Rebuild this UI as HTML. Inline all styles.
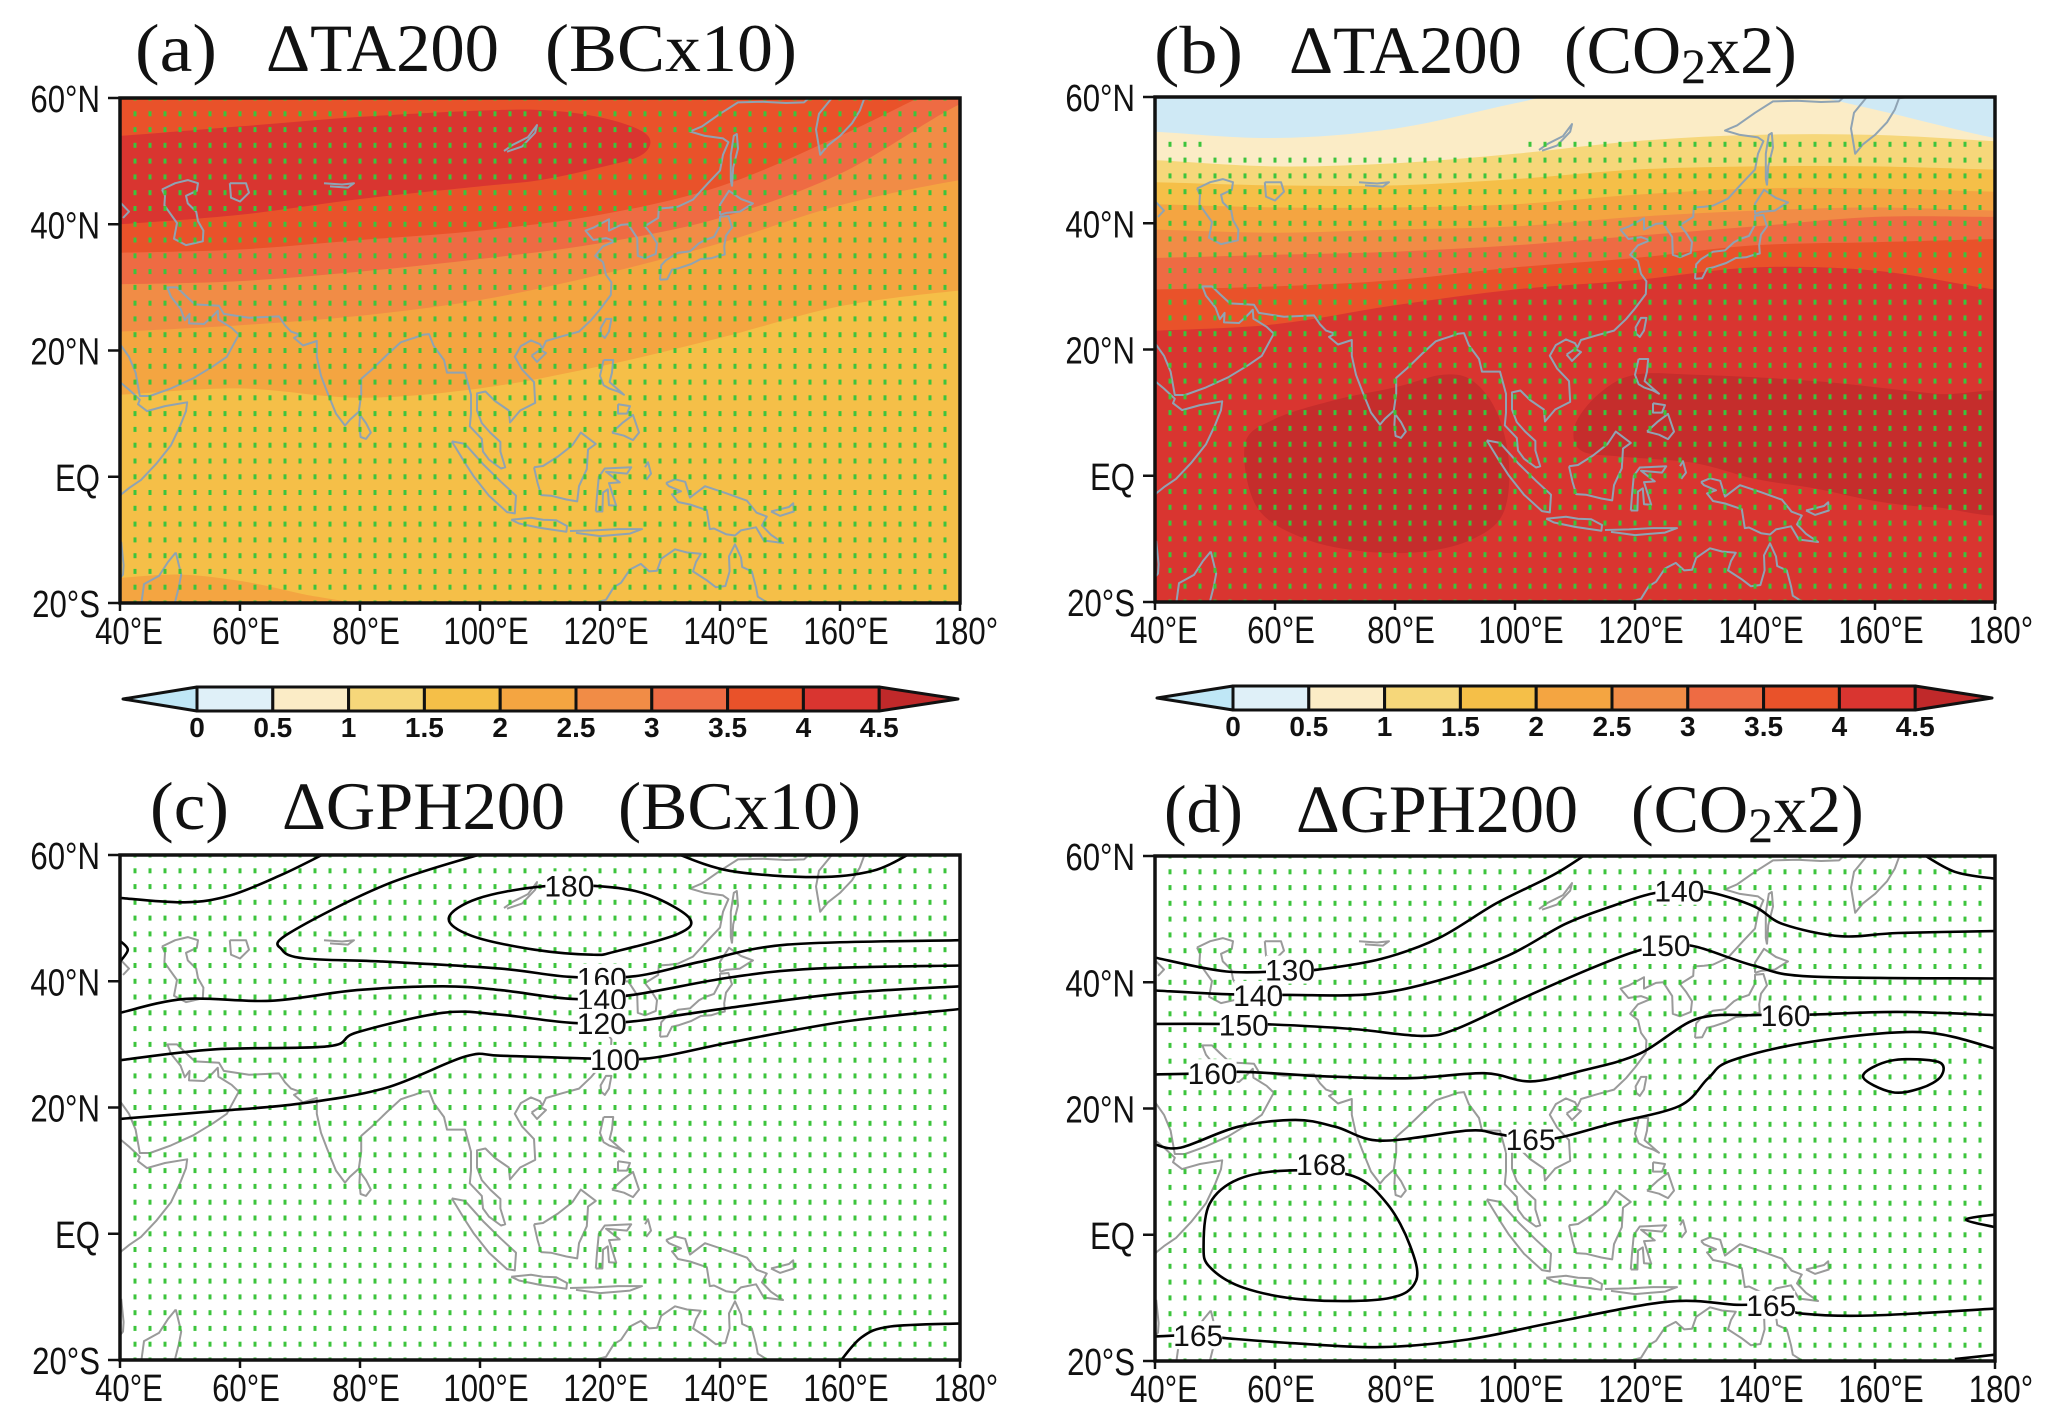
<!DOCTYPE html>
<html><head><meta charset="utf-8"><title>ΔTA200 / ΔGPH200</title>
<style>
html,body{margin:0;padding:0;background:#fff;}
svg{display:block;}
.tick{font-family:"Liberation Sans",sans-serif;font-size:38px;fill:#111;}
.ttl{font-family:"Liberation Serif",serif;font-size:68px;fill:#111;}
.cbl{font-family:"Liberation Sans",sans-serif;font-size:28px;font-weight:bold;fill:#111;}
.cl{font-family:"Liberation Sans",sans-serif;font-size:30px;fill:#111;}
</style></head>
<body>
<svg id="fig" xmlns="http://www.w3.org/2000/svg" width="2067" height="1425" viewBox="0 0 2067 1425">
<rect width="2067" height="1425" fill="#fff"/>
<g>
<text class="ttl" x="135" y="71" textLength="82" lengthAdjust="spacingAndGlyphs">(a)</text>
<text class="ttl" x="266" y="71" textLength="233" lengthAdjust="spacingAndGlyphs">ΔTA200</text>
<text class="ttl" x="545" y="71" textLength="252" lengthAdjust="spacingAndGlyphs">(BCx10)</text>
</g>
<g>
<text class="ttl" x="1154" y="73" textLength="89" lengthAdjust="spacingAndGlyphs">(b)</text>
<text class="ttl" x="1289" y="73" textLength="233" lengthAdjust="spacingAndGlyphs">ΔTA200</text>
<text class="ttl" x="1564" y="73">(CO<tspan font-size="50" dy="10">2</tspan><tspan dy="-10">x2)</tspan></text>
</g>
<g>
<text class="ttl" x="150" y="829" textLength="79" lengthAdjust="spacingAndGlyphs">(c)</text>
<text class="ttl" x="282" y="829" textLength="283" lengthAdjust="spacingAndGlyphs">ΔGPH200</text>
<text class="ttl" x="618" y="829" textLength="243" lengthAdjust="spacingAndGlyphs">(BCx10)</text>
</g>
<g>
<text class="ttl" x="1164" y="832" textLength="79" lengthAdjust="spacingAndGlyphs">(d)</text>
<text class="ttl" x="1296" y="832" textLength="282" lengthAdjust="spacingAndGlyphs">ΔGPH200</text>
<text class="ttl" x="1631" y="832">(CO<tspan font-size="50" dy="10">2</tspan><tspan dy="-10">x2)</tspan></text>
</g>
</svg>
<script>
// ---------- data ----------
const lonKnots=[40,60,80,100,120,140,160,180];
const xTickVals=[40,60,80,100,120,140,160,180];
const xTickLabels=["40°E","60°E","80°E","100°E","120°E","140°E","160°E","180°"];
const yTickVals=[60,40,20,0,-20];
const yTickLabels=["60°N","40°N","20°N","EQ","20°S"];
const cbLabels=["0","0.5","1","1.5","2","2.5","3","3.5","4","4.5"];
const cbColors=["#bfe7f6","#dff0f8","#fbecc6","#f6d77a","#f5bf48","#f4a541","#f18c46","#ee6b43","#e9522a","#d93530","#c0292a"];

// panel (a): boundary latitudes of contours at lonKnots
const taBC_top="#e9522a";
const taBC_c35=[35.5,36,37.5,39,41.5,46,54,63];
const taBC_c3=[30.5,31,32.5,34.5,37,41,48,59];
const taBC_c25=[23,24,25.5,28,32,37,43,47];
const taBC_c2=[13,14,12.5,14,17.5,22,27,29.5];
const taBC_redBlob=[[40,54],[60,55.5],[80,57],[100,58],[112,58],[122,56.5],[128,54],[127,51],[120,49],[110,47],[100,46],[80,44],[60,41.5],[40,40],[36,40],[36,54]];
const taBC_sBlob=[[36,-16],[40,-16],[50,-15.5],[60,-16.5],[70,-18.5],[80,-21],[36,-21]];

// panel (b)
const taCO_c05=[54.5,53.5,55,59,63,62,58,53.5];
const taCO_c1=[50,49,49.5,51,53,54,54,53];
const taCO_c15=[46.5,46,46,47,48.5,49,49,48.5];
const taCO_c2=[43,42.5,42.5,43,44.5,45.5,45.5,45];
const taCO_c25=[39,38.5,39,39.5,41,42,42.5,42];
const taCO_c3=[34.5,35,35.5,36.5,38,39.5,41,41];
const taCO_c35=[29.5,30,31,33,34.5,36.5,37,37.5];
const taCO_c4=[23,24,27,29.5,31,33,32.5,29.5];
const taCO_blob1=[[55,5],[60,9],[70,12],[80,14],[88,16],[93,15],[97,10],[99,2],[98,-6],[93,-10],[85,-12],[75,-12],[65,-10],[57,-5]];
const taCO_blob2=[[110,8],[114,13],[120,16],[130,16],[150,15],[170,13],[184,12],[184,-5],[170,-5],[160,-4],[150,-2],[140,-0.5],[130,2],[118,3],[111,4]];

// panel (c) contour lines (lon,lat)
const gphBC_lines=[
 [[40,53.2],[50.8,52.5],[58.4,53.6],[67,56.9],[74.7,60.5]],
 [[132,60.5],[141.6,57.5],[156,56.5],[165.5,57.5],[172.2,60.5]],
 [[101.5,60.5],[84.3,55.3],[68,47.5],[67,45],[70.9,43.6],[84.3,43.1],[103.4,42],[114.9,40.7],[125.8,40.8],[136.8,43.1],[151.2,45.8],[180,46.5]],
 [[40,35],[50.8,37.2],[65.1,36.9],[79.5,38.6],[93.8,39.2],[103.4,38.6],[115.5,37.2],[125.2,37.8],[141.6,40.6],[156,42],[180,42.5]],
 [[40,27.5],[55.6,29.2],[74.7,29.7],[79.5,31.9],[93.8,35],[103.4,34.7],[115.5,33.4],[125.2,33.6],[141.6,35.8],[160.7,38.1],[180,39.2]],
 [[40,18.2],[55.6,19.4],[69.9,20.6],[84.3,23.1],[97.6,28.1],[103.4,28.2],[117,27.8],[128.2,27.8],[141.6,30.3],[160.7,33.6],[180,35.6]],
 [[159.8,-20.5],[163.6,-16.4],[168.4,-14.7],[180,-14.2]],
 [[40,46.4],[41.3,45],[40,43.1]]
];
const gphBC_loops=[
 [[110.1,55],[99.6,53.1],[94.8,50],[98.6,47.2],[109.1,45],[118.7,44.2],[122.5,44.7],[133,47.5],[134.9,50],[128.3,53.6],[120.6,55]]
];
const gphBC_labels=[["180",114.9,55.2],["160",120.3,40.6],["140",120.3,37.2],["120",120.3,33.4],["100",122.5,27.7]];

// panel (d)
const gphCO_lines=[
 [[40,43.9],[51.9,41.7],[62.5,41.8],[67.2,42],[77.7,43.7],[87.3,47],[96.9,52.5],[106.4,57],[112.2,60.5]],
 [[40,38.7],[51.9,38.1],[62.5,38],[75.9,38.1],[87.3,40.3],[98.8,44.2],[108.3,49.2],[116,52],[122.6,54],[127.4,54.5],[132.7,54.2],[139.9,52],[144.7,49.2],[154.2,47.3],[163.8,47.8],[180,48.1]],
 [[40,33.4],[50,33.4],[59.6,33.3],[73,32.6],[84.4,31.5],[90.2,32.6],[101.6,37.6],[112.2,42],[119.8,44.8],[125.1,45.9],[130.3,45.6],[139.9,42.6],[149.5,40.9],[180,40.6]],
 [[40,25.4],[45.3,25.5],[54.8,25.8],[68.2,25.1],[82.5,24.8],[94.9,25.6],[102.6,24.3],[111.2,26],[120.8,28.7],[130.3,34.2],[139.9,34.8],[145.1,34.8],[150.3,34.9],[163.7,35.3],[180,34.8]],
 [[40,14.3],[44.3,13.8],[53.8,17.1],[63.4,18.2],[70.1,17.1],[77.7,14.9],[92.1,16.5],[96.9,16],[102.6,15.1],[107.4,15.4],[116,17.6],[127.4,20.4],[132.2,24.8],[136.1,27.6],[149.5,30.6],[167.6,32.1],[180,29.5]],
 [[40,-16.1],[47.2,-15.9],[52,-16.4],[63.4,-17.2],[77.7,-17.8],[92.1,-16.6],[106.4,-13.9],[125.5,-10.6],[137,-11.1],[142.7,-11.1],[148,-12.5],[159.5,-12.8],[180,-11.7]],
 [[167.6,60.5],[173.3,57.5],[180,56.4]],
 [[180,3.2],[175.2,2.4],[180,1.2]],
 [[173.3,-19.7],[180,-19]]
];
const gphCO_loops=[
 [[158,25.1],[162.8,27.6],[170.5,27.4],[171,25.1],[167.6,23.2],[162.8,22.6]],
 [[62.5,10.2],[53.9,8.8],[49.1,4.9],[48.1,-1.7],[49.1,-5.1],[54.8,-8.4],[65.3,-10.3],[78.7,-10.1],[83.5,-7.3],[82.5,-1.7],[78.7,4.9],[73,9.3]]
];
const gphCO_labels=[["130",62.5,42],["140",57.2,38],["150",54.8,33.3],["160",49.6,25.6],["165",102.6,15.2],["168",67.7,11.2],["165",47.2,-15.9],["165",142.7,-11.1],["140",127.4,54.5],["150",125.1,45.9],["160",145.1,34.8]];

// coastlines (lon,lat)
const coasts=[
 [[40,21],[41.5,19],[42.6,16.5],[43.3,12.8],[45,12.8],[48.5,14],[52.2,15.6],[55.5,17.5],[57.8,19],[59.8,22.5],[58.6,23.6],[56.4,24.9],[56.3,26.3],[55.3,25.3],[54,24.2],[51.5,24.3],[51.6,25.8],[50.8,24.8],[50.1,26.6],[48.5,28.5],[47.9,30],[49.5,30],[50.8,28.8],[52.5,27.3],[56.5,27.1],[57.3,25.8],[61.5,25.2],[66.5,25.4],[67.5,24],[68.5,23],[70,22.5],[69,22],[70.5,20.8],[72.8,21.5],[72.8,19],[73.5,16],[74.5,13.5],[76,10],[77.5,8.1],[78.3,9],[79.8,10.3],[80.2,13],[80.2,15.5],[82,17],[84.5,19.3],[86.8,21.3],[88,21.7],[89,22],[90.5,22.5],[91.5,22.6],[92.3,20.7],[94,18.5],[94.5,16.5],[97.5,16.5],[98.5,13],[98.5,10],[98.3,8],[100.3,6],[100.5,4],[101.5,2.7],[103.5,1.3],[104.2,1.5],[103.4,4],[103.4,5.5],[101.7,7],[100.3,8.5],[99.5,10.5],[99.5,13.2],[100.9,13.5],[102.5,12],[104.8,10.5],[105,8.6],[106.7,10.5],[109.2,11.7],[109,15],[107,17],[105.8,19],[106.8,20.7],[108.5,21.6],[110,21],[110.4,20.3],[111,21.5],[113.5,22.2],[116.5,23],[118.5,24.8],[120,26.5],[121.8,28.8],[121.9,30.8],[121,32],[120.5,34],[119.2,35],[120.5,36.5],[122.5,37.3],[121,37.8],[118.9,37.5],[118,38.5],[117.6,39],[119,39.5],[121.5,40.8],[121.5,39],[123.5,39.9],[124.7,40],[126.2,37.8],[126.3,35],[127.5,34.6],[129.3,35.3],[129.5,37],[128.5,38.5],[127.5,39.7],[129.7,41],[129.8,42.5],[131.5,42.6],[133,42.8],[135.5,43.9],[138,46.5],[140,48.5],[140.5,51],[141.4,53],[140.5,53.6],[137.5,54],[135,54.7],[137,55.5],[140,57.5],[143,59.3],[147,59.4],[151,59.2],[154,59.3],[156,61]],
 [[160,62],[159.5,61],[156.5,57.5],[156,55],[156.7,51],[158,52.5],[160,54],[162,56],[163.3,58],[164,59.8],[170,60.5]],
 [[142,46],[142.2,49],[143,52],[142.8,54.3],[142.3,54],[141.8,51],[141.8,47],[142,46]],
 [[130,31.2],[130.2,33.5],[131,34.3],[133,35.5],[135,35.7],[136.5,37],[137.5,37.5],[139,38],[140,39.8],[140,41.2],[141.4,41.3],[142,39.5],[141,38.2],[140.7,36.5],[140.8,35.2],[139.5,34.9],[138.5,34.6],[136.8,34.5],[135.2,33.7],[133,33],[132,32.8],[131.2,31.3],[130,31.2]],
 [[140,41.5],[140,43.1],[141.5,45.3],[143.5,44],[145.5,43.3],[143.3,42],[141,41.8],[140,41.5]],
 [[120.2,22.5],[120.1,23.5],[121,25],[121.9,25],[121.5,23],[120.8,22],[120.2,22.5]],
 [[108.6,19.2],[110,20.1],[111,19.6],[109.5,18.2],[108.6,19.2]],
 [[79.9,8],[80,9.8],[81,8.5],[81.8,7],[81,6],[80.1,6.3],[79.9,8]],
 [[120.6,18.5],[122.2,18.5],[122,16.5],[121.6,15],[124,13],[123,13.5],[121.5,14],[120.6,14.5],[120,16],[120.6,18.5]],
 [[122,7],[123.7,8.5],[125.5,9.8],[126.5,7],[125.5,5.8],[124,6.5],[122,7]],
 [[123,11.5],[125,11.2],[124.5,10],[123,10],[123,11.5]],
 [[109,1.5],[110.5,1.7],[113,3.2],[115.4,5],[116.8,7],[119.3,5.2],[118,4.3],[117.8,1.2],[116.5,-1.5],[116.2,-3.9],[114.4,-3.6],[111.8,-3],[110.2,-2.9],[109.6,-1],[109,1.5]],
 [[95.3,5.6],[97.5,5.2],[100.5,2],[103.5,-0.8],[106,-3],[105.8,-5.8],[104.5,-5.6],[101.5,-3],[99,0],[97.5,2.2],[95.3,5.6]],
 [[105.2,-6.8],[108.5,-6.5],[110.5,-6.8],[112.7,-6.9],[114.5,-7.8],[114.4,-8.7],[110,-8.1],[106.5,-7.4],[105.2,-6.8]],
 [[115,-8.6],[119,-8.5],[123,-8.3],[127,-8.3],[125,-9],[120,-9.4],[116,-8.9]],
 [[119.3,-5.5],[120.4,-5.5],[120.5,-2.5],[121.3,-2],[121.5,-4.5],[122.7,-4.6],[121.5,-1],[123.3,-0.9],[121,0.8],[124.5,0.5],[125.2,1.5],[120.8,1.3],[119.8,0],[119.5,-3],[119.3,-5.5]],
 [[127.5,1.5],[128,2.3],[128.5,0.5],[127.7,-0.5]],
 [[131,-1],[132.5,-0.4],[134.2,-0.8],[135,-3.3],[137.5,-1.5],[141,-2.6],[144.5,-3.8],[146.1,-5.7],[147.8,-6.3],[147,-7.7],[148.5,-9.2],[150.5,-10.5],[147.3,-10.1],[146,-8],[143.5,-8.5],[142.5,-9.3],[141,-9.1],[139,-8.2],[138.3,-8.3],[137.8,-5.3],[135,-4.4],[133,-4],[132,-2.8],[133.5,-2.3],[131.5,-1.5],[131,-1]],
 [[148.5,-5.5],[151.5,-4.8],[152.2,-4.2],[152.3,-5.5],[150,-6.2],[148.5,-5.5]],
 [[114,-21.9],[116.7,-20.6],[119,-20],[121,-19.5],[122.3,-17.5],[123.5,-16.8],[125,-14.7],[126.8,-13.8],[128.2,-15],[129.5,-14.9],[130.2,-13],[132.5,-11.5],[134.5,-12],[136.8,-12.2],[136,-13.5],[135.5,-15],[137.8,-16.4],[139.3,-17.5],[140.9,-17.3],[141.6,-15],[141.5,-12.6],[142.5,-10.7],[143.5,-12.8],[143.7,-14.3],[145.3,-15],[146,-17.5],[146.3,-19],[148.8,-20.5],[150,-22.4]],
 [[47,45.5],[49.2,46.5],[51.3,47],[53,46.5],[52.8,45.3],[51,44.5],[51.3,43.3],[52.7,42],[53,40.5],[53.9,39],[53.8,37.3],[51,36.7],[49,37.7],[49.5,40.2],[48.3,41.8],[47.4,43],[47.5,44.5],[47,45.5]],
 [[58.3,46.5],[61,46.5],[61.5,45],[60,43.6],[58.5,44.2],[58.3,46.5]],
 [[74,46.5],[77,46.3],[79,46.5],[78,45.8],[75,46]],
 [[104,51.6],[105.5,52.6],[108,53.8],[109.5,55.7],[109.2,54.5],[107,52.3],[104.5,51.5]],
 [[40,43.5],[41.5,42],[40.5,41]],
 [[40,15],[41.5,13.8],[43.3,12.2],[43,11.5],[44.5,10.4],[47.5,11.2],[51.2,11.8],[51,10.4],[50,8],[48.5,5],[46,2],[43.5,-0.5],[41.5,-1.8],[40.2,-2.8],[39.8,-3.5]],
 [[40.2,-10.3],[40.6,-14],[40.5,-15.5],[39.8,-16.3]],
 [[49.3,-12],[50.2,-15.5],[49.8,-17.5],[49,-20.5],[43.5,-20.5],[44,-17],[46.5,-15.7],[48,-13.5],[49.3,-12]]
];

// ---------- layout ----------
const NS="http://www.w3.org/2000/svg";
const svg=document.getElementById('fig');
const panels=[
 {id:"a",x0:120,x1:960,y0:98,y1:603},
 {id:"b",x0:1155,x1:1995,y0:97,y1:602},
 {id:"c",x0:120,x1:960,y0:855,y1:1360},
 {id:"d",x0:1155,x1:1995,y0:856,y1:1361}
];
function el(tag,attrs,parent){const e=document.createElementNS(NS,tag);for(const k in attrs)e.setAttribute(k,attrs[k]);(parent||svg).appendChild(e);return e;}
function xS(p,lon){return p.x0+(lon-40)/140*(p.x1-p.x0);}
function yS(p,lat){return p.y0+(60-lat)/80*(p.y1-p.y0);}
function smooth(pts,closed){
 const n=pts.length;if(n<2)return "";
 let d="M"+pts[0][0].toFixed(1)+","+pts[0][1].toFixed(1);
 const get=i=>closed?pts[(i+n)%n]:pts[Math.max(0,Math.min(n-1,i))];
 const m=closed?n:n-1;
 for(let i=0;i<m;i++){
  const p0=get(i-1),p1=get(i),p2=get(i+1),p3=get(i+2);
  const c1=[p1[0]+(p2[0]-p0[0])/6,p1[1]+(p2[1]-p0[1])/6];
  const c2=[p2[0]-(p3[0]-p1[0])/6,p2[1]-(p3[1]-p1[1])/6];
  d+="C"+c1[0].toFixed(1)+","+c1[1].toFixed(1)+" "+c2[0].toFixed(1)+","+c2[1].toFixed(1)+" "+p2[0].toFixed(1)+","+p2[1].toFixed(1);
 }
 if(closed)d+="Z";
 return d;
}
function fillBelow(p,g,lats,color,name){
 const pts=lonKnots.map((lon,i)=>[xS(p,lon),yS(p,lats[i])]);
 pts.unshift([xS(p,34),yS(p,lats[0])]);pts.push([xS(p,186),yS(p,lats[lats.length-1])]);
 let d=smooth(pts,false);
 d+="L"+xS(p,186)+","+yS(p,-30)+"L"+xS(p,34)+","+yS(p,-30)+"Z";
 const e=el('path',{d:d,fill:color},g);
 
 
}
function blob(p,g,pts,color,name){
 const e=el('path',{d:smooth(pts.map(q=>[xS(p,q[0]),yS(p,q[1])]),true),fill:color},g);
 
 
}

panels.forEach((p,pi)=>{
 const defs=el('defs',{});
 const cp=el('clipPath',{id:'clip'+p.id},defs);
 el('rect',{x:p.x0,y:p.y0,width:p.x1-p.x0,height:p.y1-p.y0},cp);
 const g=el('g',{'clip-path':'url(#clip'+p.id+')'});
 
 
 el('rect',{x:p.x0,y:p.y0,width:p.x1-p.x0,height:p.y1-p.y0,fill:'#fff'},g);
 if(p.id==="a"){
  el('rect',{x:p.x0,y:p.y0,width:p.x1-p.x0,height:p.y1-p.y0,fill:taBC_top},g);
  fillBelow(p,g,taBC_c35,cbColors[7],'band-3-3.5');
  fillBelow(p,g,taBC_c3,cbColors[6],'band-2.5-3');
  fillBelow(p,g,taBC_c25,cbColors[5],'band-2-2.5');
  fillBelow(p,g,taBC_c2,cbColors[4],'band-1.5-2');
  blob(p,g,taBC_redBlob,cbColors[9],'band-4-4.5');
  blob(p,g,taBC_sBlob,cbColors[5],'band-2-2.5-south');
 } else if(p.id==="b"){
  el('rect',{x:p.x0,y:p.y0,width:p.x1-p.x0,height:p.y1-p.y0,fill:'#cfe9f5'},g);
  fillBelow(p,g,taCO_c05,cbColors[2],'band-0.5-1');
  fillBelow(p,g,taCO_c1,cbColors[3],'band-1-1.5');
  fillBelow(p,g,taCO_c15,cbColors[4],'band-1.5-2');
  fillBelow(p,g,taCO_c2,cbColors[5],'band-2-2.5');
  fillBelow(p,g,taCO_c25,cbColors[6],'band-2.5-3');
  fillBelow(p,g,taCO_c3,cbColors[7],'band-3-3.5');
  fillBelow(p,g,taCO_c35,cbColors[8],'band-3.5-4');
  fillBelow(p,g,taCO_c4,cbColors[9],'band-4-4.5');
  blob(p,g,taCO_blob1,'#c52d2c','band-above-4.5-west');
  blob(p,g,taCO_blob2,'#c52d2c','band-above-4.5-east');
 }
 // coastlines
 const cg=el('g',{fill:'none',stroke:(pi<2?'#8fa3b3':'#9a9a9a'),'stroke-width':2,'stroke-linejoin':'round'},g);
 
 
 coasts.forEach(c=>{
  const e=el('path',{d:"M"+c.map(q=>xS(p,q[0]).toFixed(1)+","+yS(p,q[1]).toFixed(1)).join("L")},cg);
  
  
 });
 // significance dots
 const dg=el('g',{fill:'#3cc43c'},g);
 
 
 for(let lat=-20;lat<=60.01;lat+=2.5){
  for(let lon=40;lon<=180.01;lon+=2.5){
   if(p.id==="b"){
    if(lat>52.6)continue;
    if(lat>52.4 && lon>47.6 && lon<102.4)continue;
   }
   const r=el('rect',{x:(xS(p,lon)-1.5).toFixed(1),y:(yS(p,lat)-2.5).toFixed(1),width:3,height:5},dg);
   
   
  }
 }
 // contour lines
 if(p.id==="c"||p.id==="d"){
  const lines=p.id==="c"?gphBC_lines:gphCO_lines;
  const loops=p.id==="c"?gphBC_loops:gphCO_loops;
  const labels=p.id==="c"?gphBC_labels:gphCO_labels;
  const lg=el('g',{fill:'none',stroke:'#000','stroke-width':2.6},g);
  
  
  lines.forEach(l=>{
   const e=el('path',{d:smooth(l.map(q=>[xS(p,q[0]),yS(p,q[1])]),false)},lg);
   
   
  });
  loops.forEach(l=>{
   const e=el('path',{d:smooth(l.map(q=>[xS(p,q[0]),yS(p,q[1])]),true)},lg);
   
   
  });
  labels.forEach(lb=>{
   const cx=xS(p,lb[1]),cy=yS(p,lb[2]);
   const bg=el('rect',{x:cx-24,y:cy-14,width:48,height:28,fill:'#fff'},g);
   
   
   const t=el('text',{x:cx,y:cy+11,'text-anchor':'middle',class:'cl'},g);
   t.textContent=lb[0];
   
   
  });
 }
 // frame
 const fr=el('rect',{x:p.x0,y:p.y0,width:p.x1-p.x0,height:p.y1-p.y0,fill:'none',stroke:'#111','stroke-width':3.5});
 
 
 // ticks
 const tg=el('g',{});
 
 
 yTickVals.forEach((v,i)=>{
  const y=yS(p,v);
  const l=el('line',{x1:p.x0-12,x2:p.x0,y1:y,y2:y,stroke:'#111','stroke-width':2.5},tg);
  
  
  const t=el('text',{transform:`translate(${p.x0-20},${y+14}) scale(0.82,1)`,'text-anchor':'end',class:'tick'},tg);
  t.textContent=yTickLabels[i];
  
  
 });
 xTickVals.forEach((v,i)=>{
  const x=xS(p,v);
  const l=el('line',{x1:x,x2:x,y1:p.y1,y2:p.y1+8,stroke:'#111','stroke-width':2.5},tg);
  
  
  const t=el('text',{transform:`translate(${x+(i===0?9:6)},${p.y1+41}) scale(0.82,1)`,'text-anchor':'middle',class:'tick'},tg);
  t.textContent=xTickLabels[i];
  
  
 });
});

// colorbars
const cbars=[{id:"a",tipL:123,b0:197,bw:75.8,tipR:958,y0:687,y1:711},{id:"b",tipL:1157,b0:1233,bw:75.8,tipR:1992,y0:686,y1:710}];
cbars.forEach(cb=>{
 const g=el('g',{stroke:'#111','stroke-width':3,'stroke-linejoin':'round'});
 
 
 const cy=(cb.y0+cb.y1)/2;
 const lt=el('polygon',{points:`${cb.tipL},${cy} ${cb.b0},${cb.y0} ${cb.b0},${cb.y1}`,fill:cbColors[0]},g);
 
 
 for(let i=0;i<9;i++){
  const r=el('rect',{x:cb.b0+i*cb.bw,y:cb.y0,width:cb.bw,height:cb.y1-cb.y0,fill:cbColors[i+1]},g);
  
  
 }
 const be=cb.b0+9*cb.bw;
 const rt=el('polygon',{points:`${be},${cb.y0} ${cb.tipR},${cy} ${be},${cb.y1}`,fill:cbColors[10]},g);
 
 
 cbLabels.forEach((s,i)=>{
  const t=el('text',{x:cb.b0+i*cb.bw,y:cb.y1+26,'text-anchor':'middle',class:'cbl',stroke:'none'});
  t.textContent=s;
  
  
 });
});
</script>
</body></html>
